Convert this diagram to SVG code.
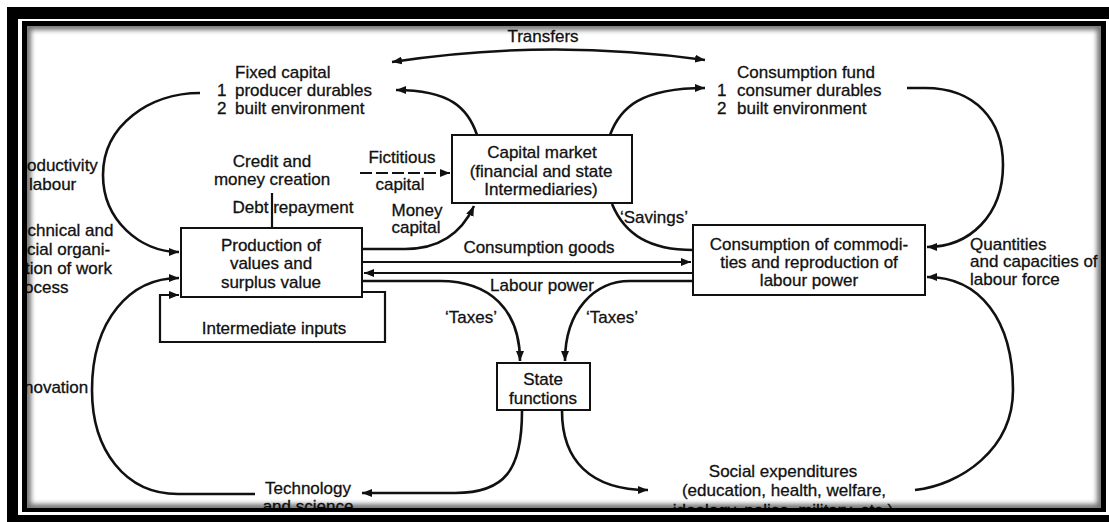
<svg xmlns="http://www.w3.org/2000/svg" width="1109" height="522" viewBox="0 0 1109 522">
  <defs>
    <style>
      .t{font-family:"Liberation Sans",Arial,sans-serif;font-size:17px;fill:#111;stroke:#111;stroke-width:0.3}
      .c{text-anchor:middle}
      .box{fill:#fff;stroke:#111;stroke-width:2}
      .ln{fill:none;stroke:#111;stroke-width:2.6}
      .fl{fill:none;stroke:#111;stroke-width:2.2}
      .dash{stroke-dasharray:12 4}
    </style>
    <marker id="arrow" viewBox="0 0 10 8" refX="10" refY="4" markerWidth="10" markerHeight="8" markerUnits="userSpaceOnUse" orient="auto-start-reverse">
      <path d="M0,0 L10,4 L0,8 Z" fill="#111"/>
    </marker>
    <clipPath id="inner"><rect x="27" y="26" width="1074" height="482"/></clipPath>
    <filter id="soft" x="-3%" y="-5%" width="106%" height="110%"><feGaussianBlur stdDeviation="2.5"/></filter>
  </defs>

  <!-- double frame -->
  <rect x="0" y="0" width="1109" height="522" fill="#fff"/>
  <rect x="7" y="7" width="1102" height="515" fill="#000"/>
  <rect x="18" y="19" width="1091" height="496" fill="#fff"/>
  <rect x="22" y="21" width="1084" height="491" fill="#000"/>
  <rect x="27" y="26" width="1074" height="482" fill="#fff"/>

  <g clip-path="url(#inner)">
    <!-- flows -->
    <g id="connectors">
      <path class="ln" d="M200,93 C150,93 103,125 103,175 C103,220 140,252 179,252" marker-end="url(#arrow)"/>
      <path class="ln" d="M255,494 H178 C125,494 92,450 92,390 C92,320 130,278 179,278" marker-end="url(#arrow)"/>
      <path class="ln" d="M522,411 C522,470 505,493 455,493 L362,493" marker-end="url(#arrow)"/>
      <path class="ln" d="M562,411 C562,460 590,490 648,490" marker-end="url(#arrow)"/>
      <path class="ln" d="M915,490 C960,485 1013,450 1013,390 C1013,320 980,277 927,277" marker-end="url(#arrow)"/>
      <path class="ln" d="M907,88 H925 C975,88 1003,120 1003,165 C1003,215 970,247 927,247" marker-end="url(#arrow)"/>
      <path class="ln" d="M477,135 C468,108 450,90 396,90" marker-end="url(#arrow)"/>
      <path class="ln" d="M610,135 C620,108 640,88 705,88" marker-end="url(#arrow)"/>
      <path class="ln" d="M392,62 Q548,38 705,60" marker-start="url(#arrow)" marker-end="url(#arrow)"/>
      <path class="ln" d="M362,249 H405 C440,249 462,232 474,206" marker-end="url(#arrow)"/>
      <path class="ln" d="M612,204 C625,235 650,250 693,250"/>
      <path class="fl" d="M362,262 H691" marker-end="url(#arrow)"/>
      <path class="fl" d="M693,273 H364" marker-end="url(#arrow)"/>
      <path class="ln" d="M362,281 H440 C490,281 520,310 520,361" marker-end="url(#arrow)"/>
      <path class="ln" d="M693,281 H630 C595,281 565,310 565,361" marker-end="url(#arrow)"/>
      <path class="fl dash" d="M360,173 H450" marker-end="url(#arrow)"/>
      <path class="fl" d="M272,193 V228"/>
      <path class="fl" d="M362,292 H385 V342 H160 V295 H179" marker-end="url(#arrow)"/>

      <g id="flow-labels">
        <text class="t c" x="543" y="42">Transfers</text>
        <text class="t c" x="402" y="163">Fictitious</text>
        <text class="t c" x="400" y="190">capital</text>
        <text class="t c" x="293" y="213">Debt repayment</text>
        <text class="t c" x="417" y="216">Money</text>
        <text class="t c" x="416" y="233">capital</text>
        <text class="t c" x="654" y="223">‘Savings’</text>
        <text class="t c" x="539" y="253">Consumption goods</text>
        <text class="t c" x="542" y="291">Labour power</text>
        <text class="t c" x="471" y="323">‘Taxes’</text>
        <text class="t c" x="612" y="323">‘Taxes’</text>
      </g>
    </g>

    <g id="fixed-capital">
      <text class="t" x="235" y="78">Fixed capital</text>
      <text class="t" x="217" y="96">1</text>
      <text class="t" x="235" y="96">producer durables</text>
      <text class="t" x="217" y="114">2</text>
      <text class="t" x="235" y="114">built environment</text>
    </g>

    <g id="consumption-fund">
      <text class="t" x="737" y="78">Consumption fund</text>
      <text class="t" x="717" y="96">1</text>
      <text class="t" x="737" y="96">consumer durables</text>
      <text class="t" x="717" y="114">2</text>
      <text class="t" x="737" y="114">built environment</text>
    </g>

    <g id="capital-market">
      <rect class="box" x="452" y="135" width="180" height="68"/>
      <text class="t c" x="542" y="158">Capital market</text>
      <text class="t c" x="541" y="177">(financial and state</text>
      <text class="t c" x="541" y="195">Intermediaries)</text>
    </g>

    <g id="credit">
      <text class="t c" x="272" y="167">Credit and</text>
      <text class="t c" x="272" y="185">money creation</text>
    </g>

    <g id="production">
      <rect class="box" x="181" y="228" width="181" height="69"/>
      <text class="t c" x="271" y="251">Production of</text>
      <text class="t c" x="271" y="269">values and</text>
      <text class="t c" x="271" y="288">surplus value</text>
    </g>

    <g id="intermediate-inputs">
      <text class="t c" x="274" y="334">Intermediate inputs</text>
    </g>

    <g id="consumption">
      <rect class="box" x="693" y="225" width="232" height="70"/>
      <text class="t c" x="809" y="250">Consumption of commodi-</text>
      <text class="t c" x="809" y="268">ties and reproduction of</text>
      <text class="t c" x="809" y="286">labour power</text>
    </g>

    <g id="state-functions">
      <rect class="box" x="497" y="363" width="93" height="47"/>
      <text class="t c" x="543" y="385">State</text>
      <text class="t c" x="543" y="404">functions</text>
    </g>

    <g id="labour-force">
      <text class="t" x="970" y="250">Quantities</text>
      <text class="t" x="970" y="267">and capacities of</text>
      <text class="t" x="970" y="285">labour force</text>
    </g>

    <g id="social-expenditures">
      <text class="t c" x="783" y="477">Social expenditures</text>
      <text class="t c" x="784" y="496">(education, health, welfare,</text>
      <text class="t c" x="783" y="516">ideology, police, military, etc.)</text>
    </g>

    <g id="technology">
      <text class="t c" x="308" y="494">Technology</text>
      <text class="t c" x="308" y="512">and science</text>
    </g>

    <g id="productivity">
      <text class="t" x="27" y="171">oductivity</text>
      <text class="t" x="29" y="190">labour</text>
    </g>

    <g id="work-organisation">
      <text class="t" x="18" y="236">echnical and</text>
      <text class="t" x="27" y="255">cial organi-</text>
      <text class="t" x="25" y="274">tion of work</text>
      <text class="t" x="24" y="293">ocess</text>
    </g>

    <g id="innovation">
      <text class="t" x="24" y="393">novation</text>
    </g>

    <!-- inner shadow of the frame -->
    <rect x="27" y="26" width="1074" height="482" fill="none" stroke="#000" stroke-width="8" opacity="0.55" filter="url(#soft)"/>
  </g>
</svg>
